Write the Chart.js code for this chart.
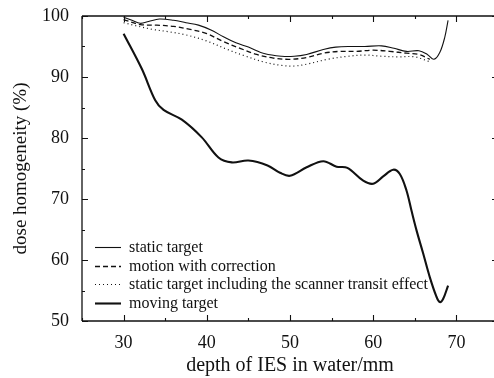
<!DOCTYPE html>
<html>
<head>
<meta charset="utf-8">
<script src="https://cdn.jsdelivr.net/npm/chart.js@4/dist/chart.umd.min.js"></script>
<style>
  html, body { margin: 0; padding: 0; background: #fff; overflow: hidden; }
  #wrap { width: 494px; height: 378px; overflow: hidden; }
</style>
</head>
<body>
<div id="wrap"><canvas id="c" width="500" height="378"></canvas></div>
<script>
// depth of IES in water (mm) / dose homogeneity (%)
const staticX   = [30, 31, 32, 33, 34.3, 36, 37.5, 39, 40.5, 42, 43.5, 45, 47, 49, 50.5, 52, 54, 55.5, 57.5, 59, 61, 62.5, 64, 65.5, 66.5, 67.3, 68, 68.6, 69];
const staticY   = [99.8, 99.3, 98.8, 99.1, 99.5, 99.3, 98.9, 98.5, 97.7, 96.6, 95.6, 94.9, 93.8, 93.4, 93.4, 93.7, 94.5, 94.9, 95.0, 95.0, 95.1, 94.7, 94.2, 94.3, 93.7, 92.9, 94.0, 96.5, 99.3];

const correctedX = [30, 32, 34, 36, 38, 40, 42, 44, 46, 48, 50, 52, 54, 56, 58, 60, 62, 64, 65.5, 66.8];
const correctedY = [99.4, 98.6, 98.5, 98.3, 97.8, 97.1, 95.8, 94.7, 93.7, 93.1, 92.9, 93.2, 93.9, 94.2, 94.2, 94.4, 94.2, 93.9, 93.7, 92.9];

const transitX  = [30, 31.5, 33.5, 35.5, 37.5, 40, 42.5, 44.5, 47, 49, 50.5, 52, 54.5, 57, 59, 61, 63, 65, 66.8];
const transitY  = [98.9, 98.4, 97.8, 97.4, 96.9, 95.9, 94.5, 93.5, 92.4, 91.9, 91.8, 92.1, 92.9, 93.4, 93.6, 93.4, 93.3, 93.3, 92.5];

const movingX   = [30, 32.2, 33.8, 34.8, 37, 39.4, 41.4, 43, 45, 47.3, 48.8, 50, 52, 54, 55.6, 56.9, 58.8, 60, 61.2, 62.4, 63.2, 64, 64.6, 65.2, 66, 66.8, 67.6, 68, 68.4, 69];
const movingY   = [97.1, 91.3, 86.2, 84.6, 83.0, 80.1, 76.8, 76.0, 76.3, 75.5, 74.3, 73.8, 75.2, 76.2, 75.3, 75.1, 73.0, 72.5, 73.7, 74.8, 74.1, 71.4, 68.1, 64.9, 61.1, 57.2, 54.0, 53.1, 53.6, 55.8];

const seriesLabels = ['static target', 'motion with correction', 'static target including the scanner transit effect', 'moving target'];
const xTickValues = [30, 40, 50, 60, 70];
const yTickValues = [50, 60, 70, 80, 90, 100];

const pts = (xs, ys) => xs.map((x, i) => ({ x, y: ys[i] }));
const SERIF = '"Liberation Serif", "DejaVu Serif", serif';
const INK = '#111';

// frame with inward major/minor ticks on all four sides
const framePlugin = {
  id: 'frame',
  afterDraw(chart) {
    const { ctx, chartArea: a, scales } = chart;
    const xs = scales.x, ys = scales.y;
    ctx.save();
    ctx.strokeStyle = INK;
    ctx.lineWidth = 1.3;
    ctx.beginPath();
    ctx.moveTo(a.left, a.top); ctx.lineTo(a.right, a.top);
    ctx.moveTo(a.left, a.bottom); ctx.lineTo(a.right, a.bottom);
    ctx.moveTo(a.left, a.top); ctx.lineTo(a.left, a.bottom);
    ctx.moveTo(a.right, a.top); ctx.lineTo(a.right, a.bottom);
    ctx.stroke();
    ctx.lineWidth = 1.1;
    ctx.beginPath();
    for (let v = 25; v <= 75; v += 5) {
      const px = Math.round(xs.getPixelForValue(v)) + 0.5;
      const len = v % 10 === 0 ? 6 : 3;
      ctx.moveTo(px, a.bottom); ctx.lineTo(px, a.bottom - len);
      ctx.moveTo(px, a.top); ctx.lineTo(px, a.top + len);
    }
    for (let v = 50; v <= 100; v += 5) {
      const py = Math.round(ys.getPixelForValue(v)) + 0.5;
      const len = v % 10 === 0 ? 6 : 3;
      ctx.moveTo(a.left, py); ctx.lineTo(a.left + len, py);
      ctx.moveTo(a.right, py); ctx.lineTo(a.right - len, py);
    }
    ctx.stroke();
    ctx.restore();
  }
};

// key drawn inside the lower-left corner of the plot
const keyPlugin = {
  id: 'key',
  afterDraw(chart) {
    const { ctx, chartArea: a } = chart;
    const x0 = a.left + 13, x1 = a.left + 39, tx = a.left + 47;
    const rowH = 18.6;
    const y0 = a.bottom - 74;
    ctx.save();
    ctx.font = '16px ' + SERIF;
    ctx.textBaseline = 'middle';
    ctx.fillStyle = INK;
    chart.data.datasets.forEach((ds, i) => {
      const y = Math.round(y0 + i * rowH) + 0.5;
      ctx.strokeStyle = ds.borderColor;
      ctx.lineWidth = ds.borderWidth;
      ctx.setLineDash(ds.borderDash || []);
      ctx.beginPath();
      ctx.moveTo(x0, y); ctx.lineTo(x1, y);
      ctx.stroke();
      ctx.setLineDash([]);
      ctx.fillText(ds.label, tx, y);
    });
    ctx.restore();
  }
};

new Chart(document.getElementById('c'), {
  type: 'line',
  data: {
    datasets: [
      { label: seriesLabels[0], data: pts(staticX, staticY), borderColor: INK, borderWidth: 1.1, tension: 0.35 },
      { label: seriesLabels[1], data: pts(correctedX, correctedY), borderColor: INK, borderWidth: 1.3, borderDash: [5, 3], tension: 0.35 },
      { label: seriesLabels[2], data: pts(transitX, transitY), borderColor: INK, borderWidth: 1.2, borderDash: [1, 3], tension: 0.35 },
      { label: seriesLabels[3], data: pts(movingX, movingY), borderColor: INK, borderWidth: 2.1, tension: 0.35 }
    ]
  },
  options: {
    responsive: false,
    animation: false,
    devicePixelRatio: 1,
    layout: { padding: { top: 16, right: 2, left: 0, bottom: 0 } },
    elements: { point: { radius: 0 } },
    plugins: { legend: { display: false }, tooltip: { enabled: false } },
    scales: {
      x: {
        type: 'linear', min: 25, max: 75,
        afterBuildTicks: s => { s.ticks = xTickValues.map(v => ({ value: v })); },
        afterFit: s => { s.height = 57; s.paddingLeft = 0; s.paddingRight = 0; },
        grid: { display: false, drawTicks: false },
        border: { display: false },
        ticks: { padding: 11, color: INK, font: { family: SERIF, size: 18 } },
        title: { display: true, text: 'depth of IES in water/mm', color: INK, font: { family: SERIF, size: 20 }, padding: { top: 0, bottom: 0 } }
      },
      y: {
        min: 50, max: 100,
        afterBuildTicks: s => { s.ticks = yTickValues.map(v => ({ value: v })); },
        afterFit: s => { s.width = 82; s.paddingTop = 0; s.paddingBottom = 0; },
        grid: { display: false, drawTicks: false },
        border: { display: false },
        ticks: { padding: 13, color: INK, font: { family: SERIF, size: 18 } },
        title: { display: true, text: 'dose homogeneity (%)', color: INK, font: { family: SERIF, size: 19 }, padding: { top: 10, bottom: 0 } }
      }
    }
  },
  plugins: [framePlugin, keyPlugin]
});
</script>
</body>
</html>
